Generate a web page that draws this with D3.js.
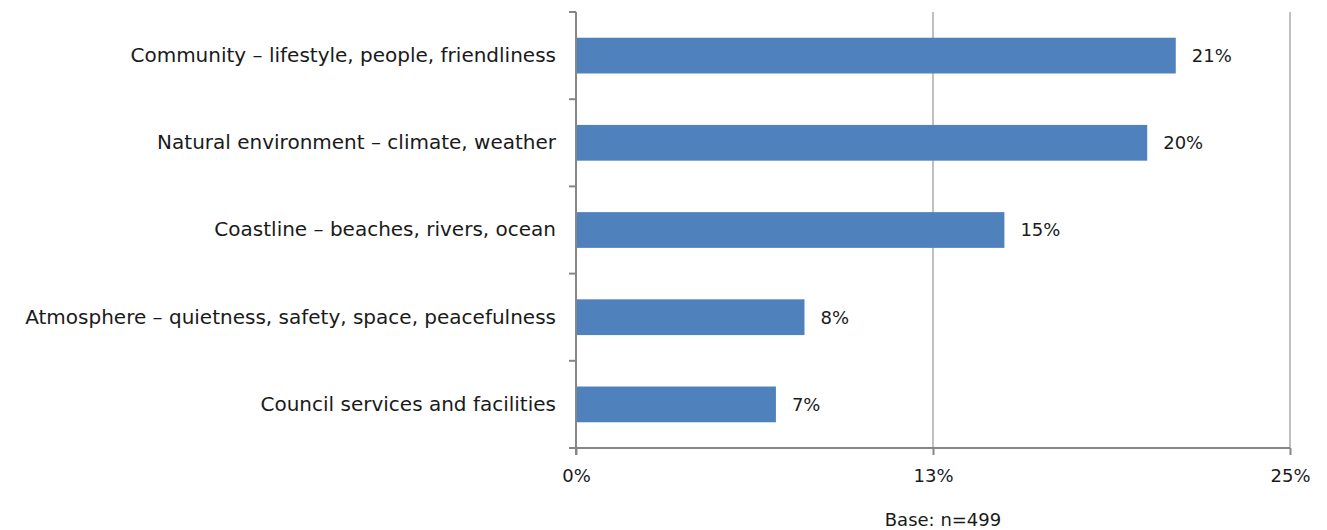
<!DOCTYPE html>
<html>
<head>
<meta charset="utf-8">
<script src="https://cdn.jsdelivr.net/npm/d3@7"></script>
<style>
  html, body { margin: 0; padding: 0; background: #fff; }
  svg text { font-family: "Century Gothic", "DejaVu Sans", sans-serif; fill: #1a1a1a; }
</style>
</head>
<body>
<svg id="chart" width="1327" height="530"></svg>
<script>
// Reasons for liking the area (share of respondents)
const categories = [
  "Community – lifestyle, people, friendliness",
  "Natural environment – climate, weather",
  "Coastline – beaches, rivers, ocean",
  "Atmosphere – quietness, safety, space, peacefulness",
  "Council services and facilities"
];
const values = [21, 20, 15, 8, 7];
const tickValues = [0, 12.5, 25];
const tickLabels = ["0%", "13%", "25%"];
const baseNote = "Base: n=499";

const FS_CAT = 20;   // category labels
const FS_NUM = 18;   // numbers and notes
const svg = d3.select("#chart");
const margin = { top: 12, left: 576, right: 37, bottom: 82 };
const W = 1327, H = 530;
const plotW = W - margin.left - margin.right;   // 714
const plotH = H - margin.top - margin.bottom;   // 436

const x = d3.scaleLinear().domain([0, 25]).range([0, plotW]);
const y = d3.scaleBand().domain(categories).range([0, plotH]).paddingInner(0.59).paddingOuter(0.295);

const g = svg.append("g").attr("transform", `translate(${margin.left},${margin.top})`);

// vertical gridlines
g.selectAll("line.grid").data(tickValues.filter(d => d > 0)).join("line")
  .attr("class", "grid")
  .attr("x1", d => x(d)).attr("x2", d => x(d))
  .attr("y1", 0).attr("y2", plotH)
  .attr("stroke", "#c0c0c0").attr("stroke-width", 2);

// bars
g.selectAll("rect.bar").data(categories).join("rect")
  .attr("class", "bar")
  .attr("x", 0)
  .attr("y", d => y(d))
  .attr("width", (d, i) => x(values[i]))
  .attr("height", y.bandwidth())
  .attr("fill", "#4f81bd");

// value labels
g.selectAll("text.val").data(categories).join("text")
  .attr("class", "val")
  .attr("x", (d, i) => x(values[i]) + 16)
  .attr("y", d => y(d) + y.bandwidth() / 2)
  .attr("dy", "0.36em")
  .attr("font-size", FS_NUM)
  .text((d, i) => values[i] + "%");

// category axis
const yAxis = d3.axisLeft(y).tickSize(0).tickPadding(20);
const ya = g.append("g").call(yAxis);
ya.select(".domain").remove();
ya.selectAll("text").attr("font-size", FS_CAT).attr("font-family", null).attr("fill", "#1a1a1a");

// category separators and axis line
const bounds = d3.range(categories.length + 1).map(i => i * plotH / categories.length);
g.selectAll("line.sep").data(bounds).join("line")
  .attr("class", "sep")
  .attr("x1", -7).attr("x2", 0)
  .attr("y1", d => d).attr("y2", d => d)
  .attr("stroke", "#868686").attr("stroke-width", 2);
g.append("line")
  .attr("x1", 0).attr("x2", 0).attr("y1", 0).attr("y2", plotH + 7)
  .attr("stroke", "#868686").attr("stroke-width", 2);

// value axis
const xAxis = d3.axisBottom(x).tickValues(tickValues).tickSize(7).tickPadding(14)
  .tickFormat((d, i) => tickLabels[i]);
const xa = g.append("g").attr("transform", `translate(0,${plotH})`).call(xAxis);
xa.select(".domain").attr("stroke", "#868686").attr("stroke-width", 2).attr("d", `M0,0H${plotW}`);
xa.selectAll(".tick line").attr("stroke", "#868686").attr("stroke-width", 2);
xa.selectAll("text").attr("font-size", FS_NUM).attr("font-family", null).attr("fill", "#1a1a1a");

// base note
svg.append("text")
  .attr("x", margin.left + x(12.5) + 10)
  .attr("y", 526)
  .attr("text-anchor", "middle")
  .attr("font-size", FS_NUM)
  .text(baseNote);
</script>
</body>
</html>
